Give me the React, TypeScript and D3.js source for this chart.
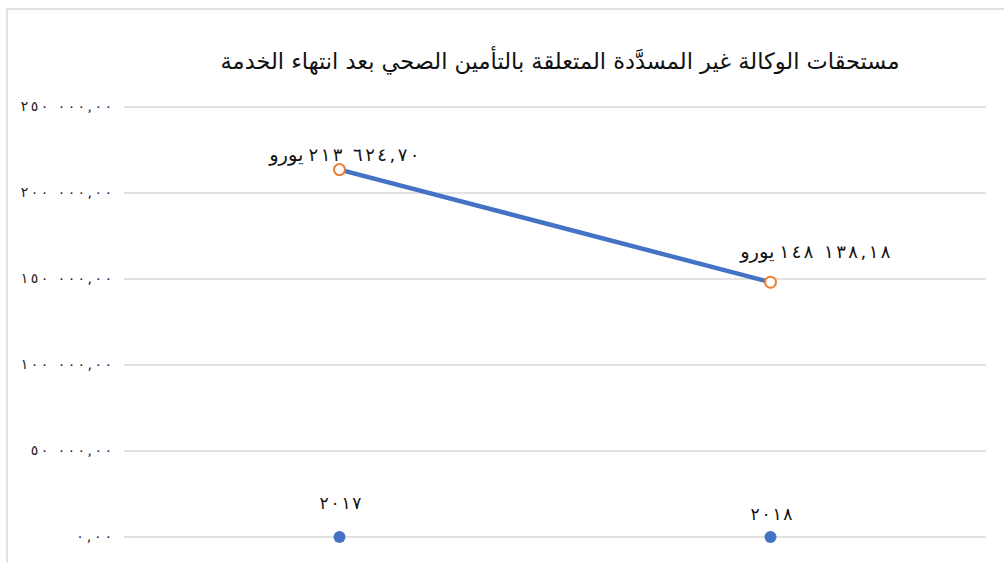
import React, { useEffect, useRef } from "react";
import * as d3 from "d3";

const title = "مستحقات الوكالة غير المسدَّدة المتعلقة بالتأمين الصحي بعد انتهاء الخدمة";
const years = ["2017", "2018"];
const amounts = [213624.7, 148138.18];
const yearBaseValues = [0, 0];
const yTicks = [0, 50000, 100000, 150000, 200000, 250000];
const currency = "يورو";

const NBSP = "\u00A0";
const toArabicDigits = (s: string) => s.replace(/[0-9]/g, (d) => "٠١٢٣٤٥٦٧٨٩"[+d]);
const fmtAmount = (v: number) => {
  const s = d3.format(",.2f")(v);
  const [intPart, dec] = s.split(".");
  return toArabicDigits(intPart.replace(/,/g, NBSP) + "," + dec);
};

const FONT = "'DejaVu Sans', sans-serif";

function stretch(sel: d3.Selection<SVGTextElement, any, any, any>, factor: number) {
  sel.each(function () {
    const len = this.getComputedTextLength();
    d3.select(this).attr("textLength", len * factor).attr("lengthAdjust", "spacing");
  });
}

export default function App() {
  const ref = useRef<SVGSVGElement>(null);
  useEffect(() => {
    const svg = d3.select(ref.current);
    svg.selectAll("*").remove();
    const W = 1004, H = 563;
    const m = { left: 124, right: 18, top: 107, bottom: 26 };
    const x = d3.scalePoint<string>().domain(years).range([m.left, W - m.right]).padding(0.5);
    const y = d3.scaleLinear().domain([0, 250000]).range([H - m.bottom, m.top]);

    svg.append("rect").attr("width", W).attr("height", H).attr("fill", "#fff");
    svg.append("path").attr("d", `M7,${H} L7,9 L${W},9`).attr("fill", "none")
      .attr("stroke", "#e3e3e3").attr("stroke-width", 2);

    svg.append("text").attr("x", 560).attr("y", 69).attr("text-anchor", "middle")
      .attr("font-family", FONT).attr("font-size", 22.5)
      .attr("fill", "#111").text(title);

    const g = svg.append("g");
    g.selectAll("line.grid").data(yTicks).join("line").attr("class", "grid")
      .attr("x1", m.left).attr("x2", W - m.right)
      .attr("y1", (d) => y(d)).attr("y2", (d) => y(d))
      .attr("stroke", "#d9d9d9").attr("stroke-width", 1.5);
    const ticks = g.selectAll<SVGTextElement, number>("text.tick").data(yTicks).join("text")
      .attr("class", "tick")
      .attr("x", 112).attr("y", (d) => y(d) + 4).attr("text-anchor", "end")
      .attr("font-family", FONT).attr("font-size", 14)
      .attr("fill", "#222")
      .text((d) => fmtAmount(d));
    stretch(ticks, 1.32);

    const line = d3.line<number>().x((_, i) => x(years[i])!).y((d) => y(d));
    g.append("path").datum(amounts).attr("d", line).attr("fill", "none")
      .attr("stroke", "#4472C4").attr("stroke-width", 4.5).attr("stroke-linecap", "round");

    g.selectAll("circle.mk").data(amounts).join("circle").attr("class", "mk")
      .attr("cx", (_, i) => x(years[i])!).attr("cy", (d) => y(d)).attr("r", 5.5)
      .attr("fill", "#fff").attr("stroke", "#ED7D31").attr("stroke-width", 2);

    const labelDx = [-36, 4];
    const labelDy = [-9, -24];
    const lab = g.selectAll("g.dl").data(amounts).join("g").attr("class", "dl")
      .attr("transform", (d, i) => `translate(${x(years[i])! + labelDx[i]},${y(d) + labelDy[i]})`);
    lab.append("text").attr("x", 0).attr("text-anchor", "end")
      .attr("font-family", FONT).attr("font-size", 19.5).attr("fill", "#111")
      .text(currency);
    const nums = lab.append("text").attr("x", 5).attr("text-anchor", "start").attr("direction", "ltr")
      .attr("font-family", FONT).attr("font-size", 18).attr("fill", "#111")
      .text((d) => fmtAmount(d));
    stretch(nums as any, 1.25);

    g.selectAll("circle.yr").data(yearBaseValues).join("circle").attr("class", "yr")
      .attr("cx", (_, i) => x(years[i])!).attr("cy", (d) => y(d)).attr("r", 6)
      .attr("fill", "#4472C4");
    const yearDy = [-28, -17];
    const yl = g.selectAll<SVGTextElement, number>("text.yr").data(yearBaseValues).join("text")
      .attr("class", "yr")
      .attr("x", (_, i) => x(years[i])! + 1).attr("y", (d, i) => y(d) + yearDy[i])
      .attr("text-anchor", "middle")
      .attr("font-family", FONT).attr("font-size", 17).attr("fill", "#111")
      .text((_, i) => toArabicDigits(years[i]));
    stretch(yl, 1.15);
  }, []);
  return (
    <svg ref={ref} width={1004} height={563}
      style={{ position: "absolute", left: 0, top: 0, display: "block" }} />
  );
}
